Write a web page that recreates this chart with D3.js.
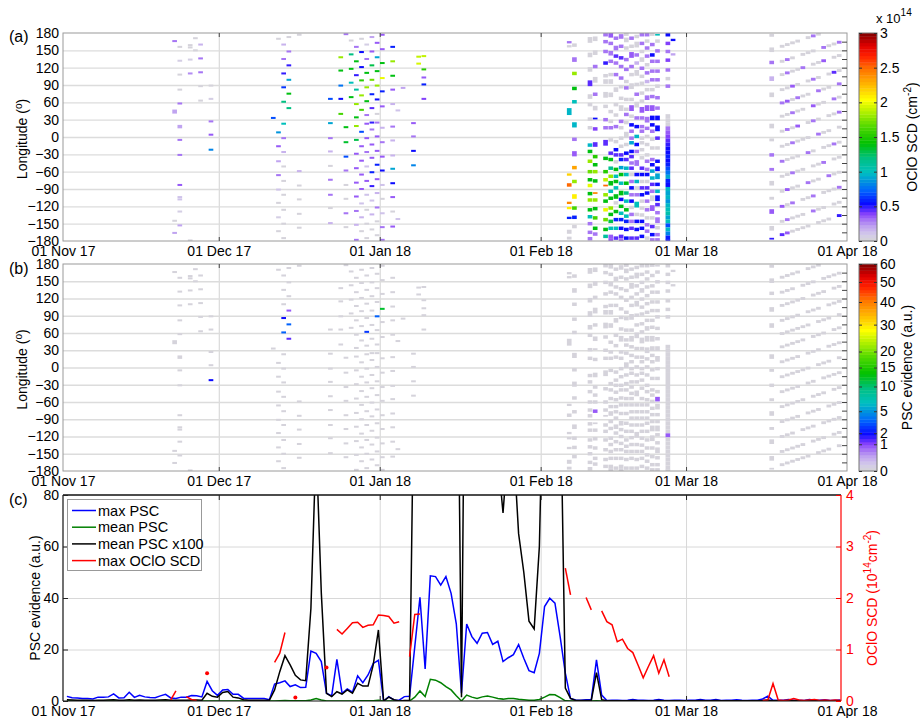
<!DOCTYPE html>
<html>
<head>
<meta charset="utf-8">
<script src="https://d3js.org/d3.v7.min.js"></script>
<style>
  body { margin: 0; background: #fff; }
  svg text { font-family: "Liberation Sans", Arial, Helvetica, sans-serif; }
</style>
</head>
<body>
<div id="chart"></div>
<script>
// ---------- data ----------
const monthTicks = ["2017-11-01", "2017-12-01", "2018-01-01", "2018-02-01", "2018-03-01", "2018-04-01"];
const monthLabels = ["01 Nov 17", "01 Dec 17", "01 Jan 18", "01 Feb 18", "01 Mar 18", "01 Apr 18"];
const lonTicks = [-180, -150, -120, -90, -60, -30, 0, 30, 60, 90, 120, 150, 180];
const ocloBarTicks = [0, 0.5, 1, 1.5, 2, 2.5, 3];
const pscBarTicks = [0, 1, 2, 5, 10, 15, 20, 30, 40, 50, 60];
const pscAxisTicks = [0, 20, 40, 60, 80];
const ocloAxisTicks = [0, 1, 2, 3, 4];

// cells: [day since 01 Nov 17, longitude, OClO SCD (1e14 cm-2), PSC evidence, longitude span]
const cellsNov = [
  [21,166,0.3],[21,44,0.2,0,7],[21,-166,0.2],[21,-145,0.03],
  [22,156,0.03],[22,132,0.05],[22,108,0.02],[22,82,0.03],[22,58,0.3],[22,18,0.2,0,6],[22,-5,0.3],[22,-31,0.3],
  [22,-83,0.35],[22,-104,0.1],[22,-108,0.1],[22,-129,0.05],[22,-153,0.2],
  [24,159,0.03],[24,155,0.03],[24,134,0.05],[24,110,0.25],[24,-179,0.03],
  [25,150,0.03],[25,171,0.03],
  [26,160,0.15],[26,136,0.3],[26,112,0.3],[26,88,0.03],[26,63,0.03],
  [28,89,0.02],[28,66,0.05],[28,27,0.3],[28,4,0.35],[28,-22,0.8,2]
];
const cellsDec = [
  [40,33,0.7],[41,170,0.03],[41,8,0.85],[41,-16,0.35],[41,-42,0.2],[41,-66,0.3],[41,-91,0.1],[41,-114,0.02],
  [41,-139,0.05],[41,-163,0.03],
  [42,160,0.15],[42,135,0.3],[42,110,0.5],[42,86,0.65,2],[42,61,1.2,3.5],[42,23,1.0],[42,-2,0.3],[42,-26,0.15],
  [42,-51,0.03],[42,-76,0.03],[42,-100,0.02],[42,-126,0.03],[42,-150,0.03],[42,-175,0.03],
  [43,173,0.03],[43,148,0.3],[43,124,0.5],[43,99,0.9,0.8],[43,75,1.4,3.5],[43,50,1.2,1.2],
  [45,177,0.03],[45,-59,0.15],[45,-84,0.03],[45,-108,0.03],[45,-133,0.03],[45,-157,0.03]
];
const cellsJan = [
  [51,66,0.7],[51,24,0.9],[51,-2,0.3],[51,-25,0.15],[51,-50,0.03],[51,-74,0.3],[51,-100,0.3],[51,-123,0.03],[51,-149,0.15],
  [53,138,1.8],[53,115,1.4],[53,89,0.75],[53,66,0.55],[53,40,1.6],
  [54,178,0.3],[54,17,1.4],[54,-9,1.35],[54,-34,0.7],[54,-58,0.3],[54,-83,0.03],[54,-107,0.03],[54,-132,0.3],[54,-156,0.03],
  [55,167,0.03],[55,143,1.2],[55,118,1.4],[55,94,1.0],[55,69,1.4],
  [56,156,0.3],[56,131,1.4],[56,107,0.5],[56,82,1.1],[56,57,1.8],[56,34,1.4],[56,19,1.8],[56,-5,1.3],[56,-29,0.35],
  [56,-54,0.35],[56,-79,0.35],[56,-103,0.35],[56,-128,0.3],[56,-152,0.15],[56,-178,0.3],
  [57,170,0.02],[57,147,0.55],[57,121,0.55],[57,98,1.5],[57,72,1.8],[57,47,1.6],[57,9,0.7],[57,-16,0.35],[57,-41,0.35],
  [57,-65,0.35],[57,-90,0.35],[57,-115,0.1],[57,-139,0.15],[57,-163,0.03],
  [58,160,0.05],[58,135,0.3],[58,111,1.4],[58,86,1.8],[58,62,1.4,2.5],[58,38,0.3],[58,23,0.35],[58,-2,0.35],[58,-26,0.3],
  [58,-51,0.1],[58,-76,0.35],[58,-100,0.1],[58,-126,0.03],[58,-150,0.03],[58,-175,0.03],
  [59,173,0.2],[59,148,0.35],[59,124,1.3],[59,99,1.7],[59,74,0.6],[59,50,0.45],[59,25,0.5],[59,13,0.3],[59,-13,0.35],
  [59,-36,0.35],[59,-61,0.6],[59,-85,0.5],[59,-110,0.1],[59,-134,0.15],[59,-160,0.03],
  [60,163,0.35],[60,138,0.9],[60,114,1.4],[60,89,1.8,3.5],[60,65,0.55],[60,40,0.03],[60,25,0.3],[60,1,0.35],[60,-24,0.35],
  [60,-48,0.6],[60,-73,0.35],[60,-97,0.15],[60,-122,0.3],[60,-146,0.03],[60,-170,0.03],
  [61,177,0.35],[61,152,0.35],[61,128,1.4],[61,102,2.0,12],[61,79,0.6],[61,53,0.35],[61,16,0.15],[61,-9,0.3],[61,-34,0.35],
  [61,-58,0.55],[61,-83,0.1],[61,-107,0.03],[61,-132,0.1],[61,-156,0.3],[61,-178,0.3],
  [63,156,0.6],[63,131,1.8],[63,106,1.4],[63,82,0.35],[63,57,0.15],[63,18,0.3],[63,-6,0.15],[63,-32,0.15],[63,-55,0.9],
  [63,-80,0.55],[63,-104,0.35],[63,-129,0.02],[63,-155,0.35],
  [64,46,0.1],[64,-142,0.1],[65,85,0.2],
  [67,24,0.35],[67,1,0.3],[67,-24,0.55],[67,-49,0.8],
  [68,139,1.9],[68,127,1.95],
  [69,140,1.9],[69,117,1.5],[69,103,0.35],[69,91,0.6],[69,66,0.4]
];
const cellsFeb = [
  [97,164,0.3,0,4],[97,157,0.03,0,4],[97,44,0.95,0,12],[97,-65,2.2,0,4],[97,-83,2.5],[97,-114,2.4,0,4],[97,-123,2.1,0,4],
  [97,-140,0.6,0,4],[97,-164,0.03,0,7],[97,-175,0.03,0,5],
  [98,159,0.03],[98,134,0.3,0,8],[98,110,1.8],[98,84,1.4],[98,61,1.0],[98,21,0.95,0,9],[98,-4,0.3],[98,-29,0.35,0,9],
  [98,-53,2.3],[98,-77,1.8],[98,-103,2.1,0,8],[98,-123,1.6],[98,-139,0.6],[98,-155,0.03],
  [101,168,0.03,0,10],[101,142,0.03,0,8],[101,117,0.03,0,8],[101,93,0.45,0,10],[101,70,0.03,0,8],[101,56,0.03],[101,31,0.03],
  [101,16,0.03],[101,-14,0.95],[101,-25,1.4],[101,-42,1.8],[101,-60,1.7],[101,-74,1.4],[101,-84,2.0],[101,-98,1.4],
  [101,-109,1.8],[101,-126,1.4],[101,-138,1.0],[101,-150,0.3],[101,-165,0.3],[101,-176,0.3],
  [102,170,0.03,0,8],[102,146,0.03,0,8],[102,122,0.3],[102,99,0.03,0,10],[102,74,0.3],[102,50,0.03,0,8],[102,32,0.55,0,3],
  [102,14,0.4],[102,-13,0.45,0,8],[102,-34,1.5],[102,-48,1.4],[102,-60,1.8],[102,-76,1.4,0.8],[102,-97,2.4,0,3],
  [102,-109,1.8],[102,-124,1.4],[102,-140,1.6],[102,-158,1.4],[102,-168,0.3],
  [104,177,0.3],[104,165,0.3],[104,148,0.3],[104,128,0.5],[104,106,0.03],[104,96,0.03,0,8],[104,73,0.03,0,10],[104,53,0.03],
  [104,30,0.3],[104,16,0.3],[104,-10,0.45,0,10],[104,-37,1.4],[104,-60,1.5],[104,-74,1.9],[104,-84,2.5,0,3],[104,-100,1.8],
  [104,-111,1.4],[104,-126,2.0],[104,-143,1.7],[104,-160,1.4],[104,-172,1.1],
  [105,176,0.35,0,8],[105,162,0.3],[105,145,0.3,0,8],[105,131,0.3],[105,108,0.03],[105,96,0.03,0,8],[105,73,0.03,0,8],
  [105,44,0.03],[105,27,0.03],[105,16,0.3],[105,-5,0.03],[105,-28,0.45],[105,-39,1.4],[105,-54,1.15],[105,-68,1.8],
  [105,-80,1.4,0,8],[105,-94,1.0],[105,-106,1.4],[105,-123,1.8],[105,-134,1.4],[105,-146,1.3],[105,-158,1.0],
  [105,-172,0.35],[105,-178,0.35],
  [106,171,0.3],[106,154,0.3,0,8],[106,140,0.45],[106,128,0.3],[106,108,0.3],[106,82,0.03,0,8],[106,56,0.03],[106,38,0.03],
  [106,18,0.3],[106,-8,0.03],[106,-22,0.55],[106,-31,0.45],[106,-43,0.03],[106,-56,1.4],[106,-68,1.0],[106,-77,1.4],
  [106,-88,1.0],[106,-103,1.4,0,8],[106,-114,0.03],[106,-129,1.4],[106,-143,0.6],[106,-158,1.0],[106,-175,0.45],
  [107,174,0.3,0,8],[107,157,0.3],[107,137,0.45],[107,122,0.3],[107,102,0.3],[107,87,0.03],[107,67,0.03],[107,50,0.03,0,10],
  [107,27,0.3],[107,16,0.03],[107,-2,0.03],[107,-16,0.03],[107,-31,0.45],[107,-39,0.6],[107,-53,0.9],[107,-65,1.4],
  [107,-80,1.0],[107,-97,1.4,0,8],[107,-108,0.55],[107,-120,1.4],[107,-132,1.0],[107,-143,0.6],[107,-158,0.55],
  [107,-172,0.45],[107,-178,0.3],
  [108,178,0.03],[108,168,0.03,0,8],[108,154,0.03],[108,134,0.3],[108,117,0.3],[108,96,0.03],[108,85,0.3],[108,65,0.03],
  [108,48,0.03],[108,39,0.3],[108,25,0.03],[108,4,0.03,0,10],[108,-13,0.03],[108,-28,0.55],[108,-39,0.45],[108,-54,0.95],
  [108,-65,1.0],[108,-80,1.4],[108,-97,1.2],[108,-111,1.0],[108,-126,1.4],[108,-137,1.0],[108,-146,0.6],[108,-160,0.55],
  [108,-175,0.55],
  [109,171,0.3],[109,157,0.03],[109,142,0.35,0,10],[109,122,0.3],[109,108,0.03],[109,88,0.03,0,10],[109,65,0.03],
  [109,50,0.35,0,10],[109,36,0.03],[109,21,0.55],[109,10,0.3],[109,-2,0.3],[109,-10,0.9],[109,-25,0.55],[109,-34,0.45],
  [109,-45,0.3],[109,-54,0.45],[109,-65,0.03],[109,-77,0.3],[109,-88,0.55],[109,-100,0.3],[109,-111,0.55],[109,-122,0.03],
  [109,-134,0.3],[109,-146,0.3],[109,-158,0.45],[109,-175,0.45],
  [110,174,0.03],[110,160,0.03,0,10],[110,142,0.3],[110,128,0.15],[110,111,0.03,0,10],[110,91,0.03],[110,74,0.3],
  [110,56,0.03,0,10],[110,33,0.3],[110,18,0.55],[110,1,0.95],[110,-13,0.55],[110,-25,0.3],[110,-45,0.3,0,10],[110,-65,0.55],
  [110,-77,0.95],[110,-88,0.03],[110,-100,0.3],[110,-117,1.0,0,10],[110,-134,0.03],[110,-146,0.55],[110,-160,0.55],
  [110,-175,0.45],
  [111,177,0.3],[111,162,0.3],[111,148,0.03],[111,134,0.03,0,8],[111,119,0.3],[111,105,0.03],[111,93,0.03],[111,76,0.03],
  [111,62,0.03],[111,47,0.35,0,10],[111,33,0.3],[111,18,0.3],[111,10,0.3],[111,-2,0.03],[111,-10,0.03],[111,-22,0.03],
  [111,-36,0.03],[111,-54,0.45],[111,-65,0.55],[111,-77,0.03],[111,-88,0.45],[111,-100,0.55],[111,-111,0.03],
  [111,-123,0.03],[111,-135,0.03],[111,-146,0.55],[111,-158,0.55],[111,-172,0.55],
  [112,177,0.3],[112,166,0.03],[112,154,0.3],[112,140,0.3],[112,125,0.03],[112,111,0.3],[112,96,0.15],[112,82,0.03],
  [112,68,0.3,0,8],[112,50,0.35,0,10],[112,30,0.3,0,10],[112,15,0.3],[112,1,0.03],[112,-13,0.03],[112,-31,0.03],
  [112,-42,0.3],[112,-56,0.3],[112,-65,0.55],[112,-77,0.03],[112,-88,0.45],[112,-97,0.55],[112,-111,0.3],[112,-126,0.3],
  [112,-140,0.03],[112,-152,0.3],[112,-163,0.3],[112,-175,0.03],
  [113,178,0.03],[113,160,0.3],[113,142,0.55],[113,131,0.3],[113,114,0.3],[113,99,0.3],[113,82,0.03],[113,70,0.3],
  [113,50,0.35,0,10],[113,33,0.55,0,8],[113,21,0.55],[113,10,0.3],[113,-4,0.03],[113,-19,0.03],[113,-39,0.3],[113,-48,0.55],
  [113,-59,0.9],[113,-71,0.95],[113,-82,0.45],[113,-94,0.3],[113,-106,0.03,0,10],[113,-123,0.35,0,10],[113,-140,0.03],
  [113,-155,0.45],[113,-169,0.55],[113,-178,0.3],
  [114,177,1.0,0,3],[114,166,0.03],[114,149,0.3],[114,131,0.3],[114,114,0.3],[114,99,0.3],[114,88,0.03],[114,68,0.3],
  [114,50,0.3],[114,33,0.55,0,8],[114,15,0.55,0,10],[114,-2,0.45],[114,-19,0.03],[114,-42,0.55],[114,-55,0.55,0.8,8],
  [114,-68,0.9,0,10],[114,-82,0.55],[114,-94,0.95],[114,-106,0.55,0,10],[114,-117,0.45],[114,-131,0.3],[114,-144,0.3,0,10],
  [114,-157,0.03],[114,-169,0.3],[114,-178,0.3],
  [116,177,0.55],[116,162,0.4],[116,148,0.3],[116,133,0.4],[116,116,0.3],[116,101,0.03],[116,88,0.3],
  [116,36,0.03,0,7],[116,29,0.03,0,7],[116,22,0.03,0,7],[116,15,0.3,0,7],[116,8,0.35,0,7],[116,1,0.4,0,7],[116,-6,0.45,0,7],
  [116,-13,0.5,0,7],[116,-20,0.55,0,7],[116,-27,0.55,0,7],[116,-34,0.6,0,7],[116,-41,0.55,0,7],[116,-48,0.6,0,7],
  [116,-55,0.7,0,7],[116,-62,0.75,0,7],[116,-69,0.9,0,7],[116,-76,0.6,0,7],[116,-83,0.55,0,7],[116,-90,0.95,0,7],
  [116,-97,0.9,0,7],[116,-104,0.95,0,7],[116,-111,0.85,0,7],[116,-118,0.95,0.8,7],[116,-125,1.0,0,7],[116,-132,1.05,0,7],
  [116,-139,0.9,0,7],[116,-146,1.0,0,7],[116,-153,0.7,0,7],[116,-160,0.95,0,7],[116,-167,0.8,0,7],[116,-174,0.6,0,7],
  [116,-179,0.55,0,4],
  [117,168,0.55,0,4],[117,143,0.2,0,4]
];
const cellsMar = [
  [136,176,0.03],[136,151,0.03,0,8],[136,129,0.3,0,6],[136,101,0.15,0,8],[136,73,0.03,0,8],[136,19,0.03,0,8],[136,-5,0.03],
  [136,-31,0.3,0,6],[136,-56,0.3],[136,-80,0.03,0,8],[136,-106,0.03],[136,-129,0.35,0,8],[136,-158,0.03,0,8],[136,-176,0.5,0,3],
  [138,157,0.03],[139,160,0.03],[140,163,0.03],[141,166,0.03],[143,172,0.03],[144,175,0.3],[145,178,0.03],
  [138,131,0.03],[139,134,0.3],[140,137,0.03],[142,143,0.03],[143,146,0.03],[144,149,0.03],[146,155,0.3],[147,158,0.03],[148,161,0.03],[149,164,0.3],
  [138,108,0.03],[139,111,0.3],[140,114,0.03],[141,117,0.03],[142,120,0.3],[144,126,0.03],[145,129,0.03],[146,132,0.35],[148,138,0.03],[149,141,0.03],
  [138,82,0.03],[139,85,0.03],[140,88,0.35],[141,91,0.03],[143,97,0.03],[144,100,0.3],[145,103,0.03],[147,109,0.03],[148,112,0.45],[149,115,0.03],
  [138,59,0.3],[139,62,0.35],[140,65,0.03],[141,68,0.3],[142,71,0.03],[143,74,0.03],[145,80,0.3],[146,83,0.03],[147,86,0.03],[149,92,0.3],
  [138,36,0.03],[139,39,0.03],[140,42,0.3],[141,45,0.03],[142,48,0.03],[144,54,0.35],[145,57,0.03],[146,60,0.03],[148,66,0.3],[149,69,0.03],
  [138,10,0.03],[139,13,0.3],[140,16,0.03],[141,19,0.35],[143,25,0.03],[144,28,0.3],[145,31,0.03],[147,37,0.03],[148,40,0.03],[149,43,0.3],
  [138,-16,0.03],[139,-13,0.03],[140,-10,0.3],[141,-7,0.03],[142,-4,0.03],[143,-1,0.03],[145,5,0.3],[146,8,0.03],[147,11,0.03],[149,17,0.03],
  [138,-42,0.3],[139,-39,0.03],[140,-36,0.03],[141,-33,0.03],[143,-27,0.3],[144,-24,0.03],[146,-18,0.03],[147,-15,0.03],[148,-12,0.3],[149,-9,0.03],
  [138,-68,0.03],[139,-65,0.03],[140,-62,0.3],[141,-59,0.03],[142,-56,0.03],[144,-50,0.03],[145,-47,0.03],[146,-44,0.3],[148,-38,0.03],[149,-35,0.03],
  [138,-94,0.03],[139,-91,0.35],[140,-88,0.03],[141,-85,0.03],[143,-79,0.3],[144,-76,0.03],[145,-73,0.03],[147,-67,0.3],[148,-64,0.03],[149,-61,0.03],
  [138,-120,0.35],[139,-117,0.03],[140,-114,0.3],[142,-108,0.03],[143,-105,0.03],[144,-102,0.3],[146,-96,0.03],[147,-93,0.03],[148,-90,0.03],[149,-87,0.3],
  [138,-146,0.03],[139,-143,0.3],[140,-140,0.03],[141,-137,0.03],[142,-134,0.03],[144,-128,0.3],[145,-125,0.03],[146,-122,0.03],[148,-116,0.03],[149,-113,0.03],
  [138,-169,0.45],[139,-166,0.35],[140,-163,0.03],[141,-160,0.03],[142,-157,0.03],[143,-154,0.03],[145,-148,0.03],[146,-145,0.03],[147,-142,0.03],[149,-136,0.5]
];

// daily series, first value = 01 Nov 17
const maxPSC = [
  1.8,1.3,1.2,1.0,1.0,0.8,1.5,1.5,1.6,2.8, 1.2,1.3,3.4,1.4,2.2,1.6,1.4,1.3,2.0,2.6,
  1.2,1.0,1.5,1.5,2.1,2.0,1.6,7.6,4.0,2.2, 4.3,4.5,2.6,2.6,1.1,1.0,1.0,1.0,1.0,0.5,
  6.6,7.1,7.8,5.6,6.3,5.2,5.3,19.4,18.5,15.3, 3.0,2.0,16.2,3.0,4.7,3.4,9.8,7.1,10.1,14.6,
  15.8,0.0,1.7,0.4,0.3,1.7,1.8,21.0,40.3,12.4, 48.6,48.3,45.0,48.3,41.8,30.0,3.0,29.9,25.0,22.4,
  26.3,26.6,22.0,23.2,15.3,16.8,18.0,21.9,16.6,11.8, 11.0,18.5,36.7,39.9,38.0,25.0,10.8,1.0,0.4,0.3,
  0.5,0.5,16.0,2.3,0.2,0.3,0.3,0.2,0.3,0.6, 0.3,0.3,0.2,0.3,0.6,0.3,0.2,0.3,0.3,0.2,
  0.3,0.3,0.6,0.3,0.3,0.6,0.2,0.3,0.3,0.5, 0.3,0.2,0.3,0.3,0.8,1.9,0.3,0.3,0.3,0.6,
  0.3,0.3,0.2,0.6,0.3,0.3,0.5,0.2,0.3,0.4
];
const meanPSC = [
  0.005,0.004,0.003,0.003,0.003,0.002,0.003,0.003,0.004,0.005, 0.003,0.003,0.005,0.003,0.004,0.003,0.003,0.003,0.004,0.005,
  0.003,0.003,0.003,0.003,0.004,0.004,0.003,0.03,0.018,0.015, 0.033,0.037,0.015,0.012,0.005,0.003,0.003,0.003,0.003,0.003,
  0.043,0.114,0.176,0.14,0.10,0.082,0.079,0.36,1.0,0.42, 0.03,0.017,0.036,0.027,0.043,0.03,0.069,0.058,0.058,0.14,
  0.276,0.0,0.015,0.005,0.0,0.002,0.002,1.5,3.9,1.7, 8.4,8.1,7.1,5.6,4.3,2.0,0.015,2.3,1.5,1.0,
  1.6,1.9,1.5,0.95,0.73,1.0,1.0,0.65,0.5,0.31, 0.28,0.6,1.5,2.5,2.4,1.3,0.05,0.01,0.002,0.002,
  0.002,0.002,0.11,0.005,0.001,0.001,0.001,0.001,0.001,0.002, 0.001,0.001,0.001,0.001,0.002,0.001,0.001,0.001,0.001,0.001,
  0.001,0.001,0.002,0.001,0.001,0.002,0.001,0.001,0.001,0.001, 0.001,0.001,0.001,0.001,0.002,0.004,0.001,0.001,0.001,0.002,
  0.001,0.001,0.001,0.002,0.001,0.001,0.001,0.001,0.001,0.001
];
// [day since 01 Nov 17, max OClO SCD (1e14 cm-2)]; missing days are gaps
const maxOClO = [
  [20,0.02],[21,0.195],[23,0.085],[24,0.03],[25,0.01],[27,0.54],
  [40,0.75],[41,0.93],[42,1.33],[44,0.07],[50,0.65],
  [52,1.39],[53,1.30],[54,1.41],[55,1.52],[56,1.53],[57,1.43],[58,1.47],[59,1.48],[60,1.67],[61,1.66],[62,1.64],[63,1.51],[64,1.54],
  [66,0.86],[67,1.68],[68,1.69],
  [96,2.58],[97,2.06],[100,2.01],[101,1.77],
  [103,1.75],[104,1.54],[105,1.48],[106,1.15],[107,1.20],[108,1.02],[109,0.94],[110,0.70],[111,0.45],[112,0.67],[113,0.88],[114,0.54],[115,0.80],[116,0.47],
  [134,0.01],[135,0.02],[136,0.34],[137,0.02],[138,0.01],[139,0.02],[140,0.05],[141,0.02],[142,0.01],[143,0.02],[144,0.03],
  [145,0.01],[146,0.02],[147,0.01],[148,0.02],[149,0.01]
];

// ---------- layout ----------
const W = 920, H = 718;
const X0 = 63, X1 = 847, XC1 = 841;
const PA = {top: 33, bottom: 241}, PB = {top: 264, bottom: 471}, PC = {top: 495, bottom: 701};
const CB = {x: 859, w: 18};
const FONT = 14;

const start = Date.UTC(2017, 10, 1);
const dayDate = n => new Date(start + n * 864e5);
const sampleDate = i => dayDate(i + 0.75);
const monthDates = monthTicks.map(s => new Date(s + "T00:00:00Z"));
const plain = d => String(d);

const svg = d3.select("#chart").append("svg")
  .attr("width", W).attr("height", H)
  .style("background", "#fff");

const x = d3.scaleUtc().domain([dayDate(0), dayDate(151)]).range([X0, X1]);

// colormap (64 steps like the original)
const cmapPos = [0, 0.03, 0.07, 0.1, 0.13, 0.155, 0.18, 0.24, 0.33, 0.4, 0.47, 0.55, 0.62, 0.68, 0.76, 0.83, 0.89, 0.94, 1];
const cmapCol = ["#d6d6d6", "#d4cce8", "#c0a4f0", "#a878f4", "#8a44fa", "#4a24ff", "#0a0aff", "#0060ff", "#00c0c0",
  "#00c080", "#00c000", "#50d800", "#b0f000", "#ffff00", "#ffb000", "#ff7000", "#ff2000", "#e00000", "#800000"];
const cmap = d3.scaleLinear().domain(cmapPos).range(cmapCol).clamp(true);
const quant = t => (Math.min(63, Math.max(0, Math.floor(t * 64))) + 0.5) / 64;
const ocloColor = v => cmap(quant(v / 3));
const pscColor = v => cmap(quant(Math.sqrt(Math.max(0, v) / 60)));

function styleText(sel, color) {
  sel.selectAll("text").attr("font-size", FONT).attr("fill", color || "#000")
    .attr("font-family", '"Liberation Sans", Arial, sans-serif');
}

function monthLabelsAt(yPos) {
  svg.append("g").attr("transform", `translate(0,${yPos})`)
    .call(d3.axisBottom(x).tickValues(monthDates).tickFormat((d, i) => monthLabels[i]).tickSize(0).tickPadding(5))
    .call(g => g.select(".domain").remove())
    .call(g => styleText(g));
}

// ---------- longitude panels ----------
function lonPanel(p, id, valueOf, colorOf) {
  const h = p.bottom - p.top;
  const y = d3.scaleLinear().domain([-180, 180]).range([p.bottom, p.top]);

  svg.append("clipPath").attr("id", id).append("rect")
    .attr("x", X0).attr("y", p.top).attr("width", X1 - X0).attr("height", h);

  // grid
  svg.append("g").attr("transform", `translate(0,${p.bottom})`)
    .call(d3.axisBottom(x).tickValues(monthDates.slice(1, -1)).tickSize(-h).tickFormat(""))
    .call(g => g.select(".domain").remove())
    .call(g => g.selectAll("line").attr("stroke", "#d2d2d2"));
  svg.append("g").attr("transform", `translate(${X0},0)`)
    .call(d3.axisLeft(y).tickValues(lonTicks.slice(1, -1)).tickSize(-(X1 - X0)).tickFormat(""))
    .call(g => g.select(".domain").remove())
    .call(g => g.selectAll("line").attr("stroke", "#dcdcdc").attr("stroke-width", 1.3));

  // cells
  const cg = svg.append("g").attr("clip-path", `url(#${id})`);
  const groups = [[cellsNov, 3.5], [cellsDec, 3.5], [cellsJan, 3.5], [cellsFeb, 6], [cellsMar, 5]];
  const cw = x(dayDate(0.9)) - x(dayDate(0));
  groups.forEach(([cells, span]) => {
    cg.append("g").selectAll("rect").data(cells).join("rect")
      .attr("x", d => x(dayDate(d[0] + 0.05)))
      .attr("width", cw)
      .attr("y", d => y(d[1] + (d[4] || span) / 2))
      .attr("height", d => y(d[1] - (d[4] || span) / 2) - y(d[1] + (d[4] || span) / 2))
      .attr("fill", d => colorOf(valueOf(d)));
  });

  // box and ticks
  svg.append("rect").attr("x", X0).attr("y", p.top).attr("width", X1 - X0).attr("height", h)
    .attr("fill", "none").attr("stroke", "#9a9a9a");
  svg.append("g").attr("transform", `translate(0,${p.top})`)
    .call(d3.axisTop(x).tickValues(monthDates.slice(1, -1)).tickSize(-4).tickFormat(""))
    .call(g => g.select(".domain").remove())
    .call(g => g.selectAll("line").attr("stroke", "#444"));
  svg.append("g").attr("transform", `translate(0,${p.bottom})`)
    .call(d3.axisBottom(x).tickValues(monthDates.slice(1, -1)).tickSize(-4).tickFormat(""))
    .call(g => g.select(".domain").remove())
    .call(g => g.selectAll("line").attr("stroke", "#444"));
  svg.append("g").attr("transform", `translate(${X1},0)`)
    .call(d3.axisRight(y).tickValues(d3.range(-165, 180, 15)).tickSize(-5).tickFormat(""))
    .call(g => g.select(".domain").remove())
    .call(g => g.selectAll("line").attr("stroke", "#444"));

  // axis labels
  svg.append("g").attr("transform", `translate(${X0},0)`)
    .call(d3.axisLeft(y).tickValues(lonTicks).tickSize(0).tickPadding(4))
    .call(g => g.select(".domain").remove())
    .call(g => styleText(g));
  monthLabelsAt(p.bottom);

  const t = svg.append("text").attr("transform", `translate(27,${(p.top + p.bottom) / 2 + 2}) rotate(-90)`)
    .attr("text-anchor", "middle").attr("font-size", FONT);
  t.append("tspan").text("Longitude (");
  t.append("tspan").attr("font-size", 10).attr("dy", -5).text("o");
  t.append("tspan").attr("dy", 5).text(")");
  return y;
}

function colorbar(p, scale, ticks) {
  const h = p.bottom - p.top;
  svg.append("g").selectAll("rect").data(d3.range(64)).join("rect")
    .attr("x", CB.x).attr("width", CB.w)
    .attr("y", i => p.bottom - (i + 1) * h / 64)
    .attr("height", h / 64 + 0.4)
    .attr("fill", i => cmap((i + 0.5) / 64));
  svg.append("rect").attr("x", CB.x).attr("y", p.top).attr("width", CB.w).attr("height", h)
    .attr("fill", "none").attr("stroke", "#777");
  svg.append("g").attr("transform", `translate(${CB.x + CB.w},0)`)
    .call(d3.axisRight(scale).tickValues(ticks).tickSize(-3).tickFormat(""))
    .call(g => g.select(".domain").remove())
    .call(g => g.selectAll("line").attr("stroke", "#333"));
  svg.append("g").attr("transform", `translate(${CB.x},0)`)
    .call(d3.axisLeft(scale).tickValues(ticks).tickSize(-3).tickFormat(""))
    .call(g => g.select(".domain").remove())
    .call(g => g.selectAll("line").attr("stroke", "#333"));
  svg.append("g").attr("transform", `translate(${CB.x + CB.w},0)`)
    .call(d3.axisRight(scale).tickValues(ticks).tickFormat(plain).tickSize(0).tickPadding(3))
    .call(g => g.select(".domain").remove())
    .call(g => styleText(g));
}

// (a)
lonPanel(PA, "clipA", d => d[2], ocloColor);
colorbar(PA, d3.scaleLinear().domain([0, 3]).range([PA.bottom, PA.top]), ocloBarTicks);
const ex = svg.append("text").attr("x", 876).attr("y", 23).attr("font-size", 13);
ex.append("tspan").text("x 10");
ex.append("tspan").attr("font-size", 10).attr("dy", -7).text("14");
const la = svg.append("text").attr("transform", `translate(917,${(PA.top + PA.bottom) / 2}) rotate(-90)`)
  .attr("text-anchor", "middle").attr("font-size", FONT);
la.append("tspan").text("OClO SCD (cm");
la.append("tspan").attr("font-size", 10).attr("dy", -6).text("-2");
la.append("tspan").attr("dy", 6).text(")");
svg.append("text").attr("x", 9).attr("y", 42).attr("font-size", 16).text("(a)");

// (b)
lonPanel(PB, "clipB", d => d[3] || 0, pscColor);
colorbar(PB, d3.scaleSqrt().domain([0, 60]).range([PB.bottom, PB.top]), pscBarTicks);
svg.append("text").attr("transform", `translate(912,${(PB.top + PB.bottom) / 2}) rotate(-90)`)
  .attr("text-anchor", "middle").attr("font-size", FONT).text("PSC evidence (a.u.)");
svg.append("text").attr("x", 9).attr("y", 274).attr("font-size", 16).text("(b)");

// ---------- (c) time series ----------
const hC = PC.bottom - PC.top;
const yL = d3.scaleLinear().domain([0, 80]).range([PC.bottom, PC.top]);
const yR = d3.scaleLinear().domain([0, 4]).range([PC.bottom, PC.top]);
const innerMonths = monthDates.filter(d => x(d) > X0 + 1 && x(d) < XC1 - 1);

svg.append("clipPath").attr("id", "clipC").append("rect")
  .attr("x", X0).attr("y", PC.top).attr("width", XC1 - X0).attr("height", hC);

svg.append("g").attr("transform", `translate(0,${PC.bottom})`)
  .call(d3.axisBottom(x).tickValues(innerMonths).tickSize(-hC).tickFormat(""))
  .call(g => g.select(".domain").remove())
  .call(g => g.selectAll("line").attr("stroke", "#d8d8d8"));
svg.append("g").attr("transform", `translate(${X0},0)`)
  .call(d3.axisLeft(yL).tickValues([20, 40, 60]).tickSize(-(XC1 - X0)).tickFormat(""))
  .call(g => g.select(".domain").remove())
  .call(g => g.selectAll("line").attr("stroke", "#d8d8d8"));

const lc = svg.append("g").attr("clip-path", "url(#clipC)");
const lineL = d3.line().x((d, i) => x(sampleDate(i))).y(d => yL(d));
lc.append("path").datum(maxPSC).attr("d", lineL)
  .attr("fill", "none").attr("stroke", "#0000ff").attr("stroke-width", 1.5);
lc.append("path").datum(meanPSC).attr("d", lineL)
  .attr("fill", "none").attr("stroke", "#008000").attr("stroke-width", 1.5);
lc.append("path").datum(meanPSC.map(v => v * 100)).attr("d", lineL)
  .attr("fill", "none").attr("stroke", "#000").attr("stroke-width", 1.5);

// red: split into runs of consecutive days
const runs = [];
maxOClO.forEach((d, i) => {
  if (i === 0 || d[0] - maxOClO[i - 1][0] > 1) runs.push([]);
  runs[runs.length - 1].push(d);
});
const lineR = d3.line().x(d => x(sampleDate(d[0]))).y(d => yR(d[1]));
lc.append("g").selectAll("path").data(runs.filter(r => r.length > 1)).join("path")
  .attr("d", lineR).attr("fill", "none").attr("stroke", "#ff0000").attr("stroke-width", 1.5);
lc.append("g").selectAll("circle").data(runs.filter(r => r.length === 1)).join("circle")
  .attr("cx", r => x(sampleDate(r[0][0]))).attr("cy", r => yR(r[0][1])).attr("r", 2)
  .attr("fill", "#ff0000");

// box
svg.append("line").attr("x1", X0).attr("x2", XC1).attr("y1", PC.top).attr("y2", PC.top)
  .attr("stroke", "#111").attr("stroke-width", 1.6);
svg.append("line").attr("x1", X0).attr("x2", XC1).attr("y1", PC.bottom).attr("y2", PC.bottom)
  .attr("stroke", "#111").attr("stroke-width", 1.2);
svg.append("line").attr("x1", X0).attr("x2", X0).attr("y1", PC.top).attr("y2", PC.bottom)
  .attr("stroke", "#111").attr("stroke-width", 1.2);
svg.append("line").attr("x1", XC1).attr("x2", XC1).attr("y1", PC.top).attr("y2", PC.bottom)
  .attr("stroke", "#ff0000").attr("stroke-width", 1.2);

// ticks
svg.append("g").attr("transform", `translate(0,${PC.top})`)
  .call(d3.axisTop(x).tickValues(innerMonths).tickSize(-5).tickFormat(""))
  .call(g => g.select(".domain").remove())
  .call(g => g.selectAll("line").attr("stroke", "#222"));
svg.append("g").attr("transform", `translate(0,${PC.bottom})`)
  .call(d3.axisBottom(x).tickValues(innerMonths).tickSize(-5).tickFormat(""))
  .call(g => g.select(".domain").remove())
  .call(g => g.selectAll("line").attr("stroke", "#222"));
svg.append("g").attr("transform", `translate(${X0},0)`)
  .call(d3.axisLeft(yL).tickValues(pscAxisTicks).tickSize(-5).tickFormat(""))
  .call(g => g.select(".domain").remove())
  .call(g => g.selectAll("line").attr("stroke", "#222"));
svg.append("g").attr("transform", `translate(${XC1},0)`)
  .call(d3.axisRight(yR).tickValues(ocloAxisTicks).tickSize(-5).tickFormat(""))
  .call(g => g.select(".domain").remove())
  .call(g => g.selectAll("line").attr("stroke", "#ff0000"));

// labels
svg.append("g").attr("transform", `translate(${X0},0)`)
  .call(d3.axisLeft(yL).tickValues(pscAxisTicks).tickSize(0).tickPadding(4))
  .call(g => g.select(".domain").remove())
  .call(g => styleText(g));
svg.append("g").attr("transform", `translate(${XC1},0)`)
  .call(d3.axisRight(yR).tickValues(ocloAxisTicks).tickFormat(plain).tickSize(0).tickPadding(5))
  .call(g => g.select(".domain").remove())
  .call(g => styleText(g, "#ff0000"));
monthLabelsAt(PC.bottom);

svg.append("text").attr("transform", `translate(40,${(PC.top + PC.bottom) / 2}) rotate(-90)`)
  .attr("text-anchor", "middle").attr("font-size", FONT).text("PSC evidence (a.u.)");
const rl = svg.append("text").attr("transform", `translate(877,${(PC.top + PC.bottom) / 2}) rotate(-90)`)
  .attr("text-anchor", "middle").attr("font-size", FONT).attr("fill", "#ff0000");
rl.append("tspan").text("OClO SCD (10");
rl.append("tspan").attr("font-size", 10).attr("dy", -6).text("14");
rl.append("tspan").attr("dy", 6).text("cm");
rl.append("tspan").attr("font-size", 10).attr("dy", -6).text("-2");
rl.append("tspan").attr("dy", 6).text(")");
svg.append("text").attr("x", 9).attr("y", 505).attr("font-size", 16).text("(c)");

// legend
const legendItems = [["max PSC", "#0000ff"], ["mean PSC", "#008000"], ["mean PSC x100", "#000"], ["max OClO SCD", "#ff0000"]];
const lg = svg.append("g");
lg.append("rect").attr("x", 67.5).attr("y", 499.5).attr("width", 134).attr("height", 71)
  .attr("fill", "#fff").attr("stroke", "#999");
const li = lg.selectAll("g").data(legendItems).join("g")
  .attr("transform", (d, i) => `translate(0,${510.5 + i * 16.7})`);
li.append("line").attr("x1", 72).attr("x2", 96).attr("stroke", d => d[1]).attr("stroke-width", 1.5);
li.append("text").attr("x", 98).attr("dy", "0.35em").attr("font-size", 14.5).text(d => d[0]);
</script>
</body>
</html>
